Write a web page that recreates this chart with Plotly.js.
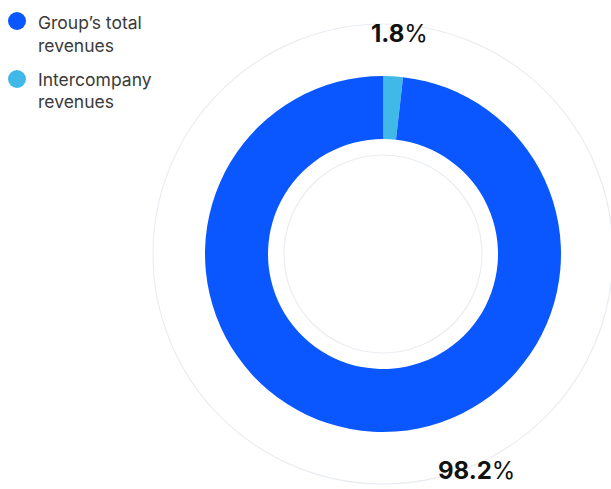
<!DOCTYPE html>
<html>
<head>
<meta charset="utf-8">
<script src="https://cdn.plot.ly/plotly-3.0.1.min.js"></script>
<style>html,body{margin:0;padding:0;background:#fff;}#chart{width:611px;height:489px;}</style>
</head>
<body>
<div id="chart"></div>
<script>
const categories = ["Intercompany revenues", "Group’s total revenues"];
const values = [1.8, 98.2];
const colors = ["#41b9e8", "#0a57ff"];
const legendLines = [["Group’s total", "revenues"], ["Intercompany", "revenues"]];
const legendColors = ["#0a57ff", "#41b9e8"];

const W = 611, H = 489;
const cx = 383, cy = 254, R = 178;
const FONT = "Inter, 'Noto Sans', sans-serif";

const traces = [{
  type: "pie",
  labels: categories,
  values: values,
  sort: false,
  direction: "clockwise",
  rotation: 0,
  hole: 115/178,
  textinfo: "none",
  marker: {colors: colors, line: {width: 0}},
  showlegend: false,
  domain: {x: [(cx - R) / W, (cx + R) / W], y: [1 - (cy + R) / H, 1 - (cy - R) / H]}
}];

function circ(r) {
  return {type: "circle", xref: "paper", yref: "paper", layer: "below",
    x0: (cx - r) / W, x1: (cx + r) / W, y0: 1 - (cy + r) / H, y1: 1 - (cy - r) / H,
    line: {color: "#e9edf2", width: 1.2}};
}

const shapes = [circ(230), circ(99)];
const annotations = [];

// data labels
const labelPos = [[399, 33], [476, 470]];
values.forEach((v, i) => annotations.push({
  xref: "paper", yref: "paper",
  x: labelPos[i][0] / W, y: 1 - labelPos[i][1] / H,
  xanchor: "center", yanchor: "middle", showarrow: false,
  text: "<b>" + v.toFixed(1) + "</b>%",
  font: {family: FONT, size: 24, color: "#111"}
}));

// legend (drawn manually for exact spacing)
const legendMarkerY = [21, 79];
const legendLineY = [[22, 45], [80, 101]];
legendLines.forEach((lines, i) => {
  const my = legendMarkerY[i], r = 9;
  shapes.push({type: "circle", xref: "paper", yref: "paper",
    x0: (17 - r) / W, x1: (17 + r) / W, y0: 1 - (my + r) / H, y1: 1 - (my - r) / H,
    fillcolor: legendColors[i], line: {width: 0}});
  lines.forEach((t, j) => annotations.push({
    xref: "paper", yref: "paper", x: 36 / W, y: 1 - legendLineY[i][j] / H,
    xanchor: "left", yanchor: "middle", showarrow: false,
    text: t, font: {family: FONT, size: 17.5, color: "#3a3a3a"}
  }));
});

const layout = {
  width: W, height: H,
  margin: {l: 0, r: 0, t: 0, b: 0},
  paper_bgcolor: "#fff", plot_bgcolor: "#fff",
  shapes: shapes,
  annotations: annotations,
  showlegend: false,
  hovermode: false
};

Plotly.newPlot("chart", traces, layout, {displayModeBar: false, staticPlot: true});
</script>
</body>
</html>
